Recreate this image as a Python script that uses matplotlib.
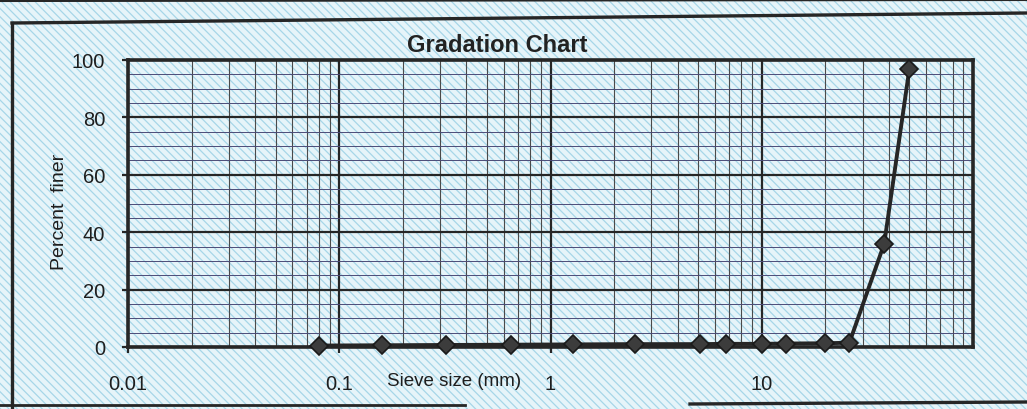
import matplotlib
matplotlib.use("Agg")
import matplotlib.pyplot as plt
from matplotlib.patches import Rectangle
from matplotlib.lines import Line2D
from matplotlib.ticker import FixedLocator, NullFormatter, MultipleLocator

# ---- data ----
sieve_mm = [0.08, 0.16, 0.32, 0.65, 1.28, 2.5, 5.1, 6.8, 10, 13, 20, 26, 38, 50]
percent_finer = [0.5, 0.6, 0.7, 0.8, 0.9, 1.0, 1.0, 1.1, 1.1, 1.2, 1.3, 1.5, 36, 97]
x_ticks = [0.01, 0.1, 1, 10]
x_tick_labels = ["0.01", "0.1", "1", "10"]
y_ticks = [0, 20, 40, 60, 80, 100]

FONT = ["Liberation Sans", "DejaVu Sans"]
plt.rcParams["font.family"] = FONT
plt.rcParams["hatch.linewidth"] = 0.9
plt.rcParams["hatch.color"] = "#a6d6e8"

W, H = 1027, 410
fig = plt.figure(figsize=(W / 100, H / 100), dpi=100)
fig.patch.set_facecolor("#e6f4f9")

# paper hatch background
bg = Rectangle((0, 0), 1, 1, transform=fig.transFigure, facecolor="#e6f4f9",
               edgecolor="#a6d6e8", hatch="\\\\\\\\", linewidth=0, zorder=-10)
fig.patches.append(bg)

# outer frame lines
ink = "#262626"
fig.add_artist(Line2D([12 / W, 12 / W], [0, 1 - 24 / H], transform=fig.transFigure,
                      color=ink, lw=2.4))
fig.add_artist(Line2D([12 / W, 1], [1 - 24 / H, 1 - 14 / H], transform=fig.transFigure,
                      color=ink, lw=2.4))
fig.add_artist(Line2D([0, 1], [1 - 2 / H, 1 - 1 / H], transform=fig.transFigure,
                      color=ink, lw=1.5))
fig.add_artist(Line2D([0, 465 / W], [4 / H, 4 / H], transform=fig.transFigure,
                      color=ink, lw=2.0))
fig.add_artist(Line2D([690 / W, 1], [5 / H, 7 / H], transform=fig.transFigure,
                      color=ink, lw=2.4))

left, right, top, bottom = 128, 973, 61, 348
ax = fig.add_axes([left / W, 1 - bottom / H, (right - left) / W, (bottom - top) / H])
ax.set_facecolor("none")

ax.set_xscale("log")
ax.set_xlim(0.01, 100)
ax.set_ylim(0, 100)

ax.xaxis.set_major_locator(FixedLocator(x_ticks))
ax.set_xticklabels(x_tick_labels)
ax.xaxis.set_minor_locator(FixedLocator(
    [m * 10.0 ** e for e in range(-2, 2) for m in range(2, 10)]))
ax.xaxis.set_minor_formatter(NullFormatter())
ax.yaxis.set_major_locator(FixedLocator(y_ticks))
ax.yaxis.set_minor_locator(MultipleLocator(5))

ax.grid(which="major", color=ink, lw=1.6, zorder=1)
ax.grid(which="minor", axis="x", color="#4a4a4a", lw=0.8, zorder=1)
ax.grid(which="minor", axis="y", color="#4c4c78", lw=0.7, zorder=1)
ax.set_axisbelow(True)

for s in ax.spines.values():
    s.set_linewidth(2.6)
    s.set_color(ink)

ax.tick_params(which="major", length=4.5, width=1.6, color=ink,
               labelsize=14.5, labelcolor="#1e1e1e")
ax.tick_params(axis="y", which="major", pad=12)
ax.tick_params(axis="x", which="major", pad=15)
ax.tick_params(which="minor", length=0)

ax.plot(sieve_mm, percent_finer, color=ink, lw=2.8, marker="D", markersize=9,
        markerfacecolor="#3c3c3c", markeredgecolor="#1a1a1a", markeredgewidth=1.2,
        zorder=5, clip_on=False)

fig.text(497 / W, 1 - 45 / H, "Gradation Chart", ha="center", va="center",
         fontsize=17, fontweight="bold", color="#222222", family=FONT)
fig.text(454 / W, 1 - 382 / H, "Sieve size (mm)", ha="center", va="center",
         fontsize=13.5, color="#1e1e1e", family=FONT)
fig.text(60 / W, 1 - 212 / H, "Percent  finer", ha="center", va="center",
         rotation=90, fontsize=14, color="#1e1e1e", family=FONT)

fig.savefig("out.png", dpi=100, facecolor=fig.get_facecolor())
